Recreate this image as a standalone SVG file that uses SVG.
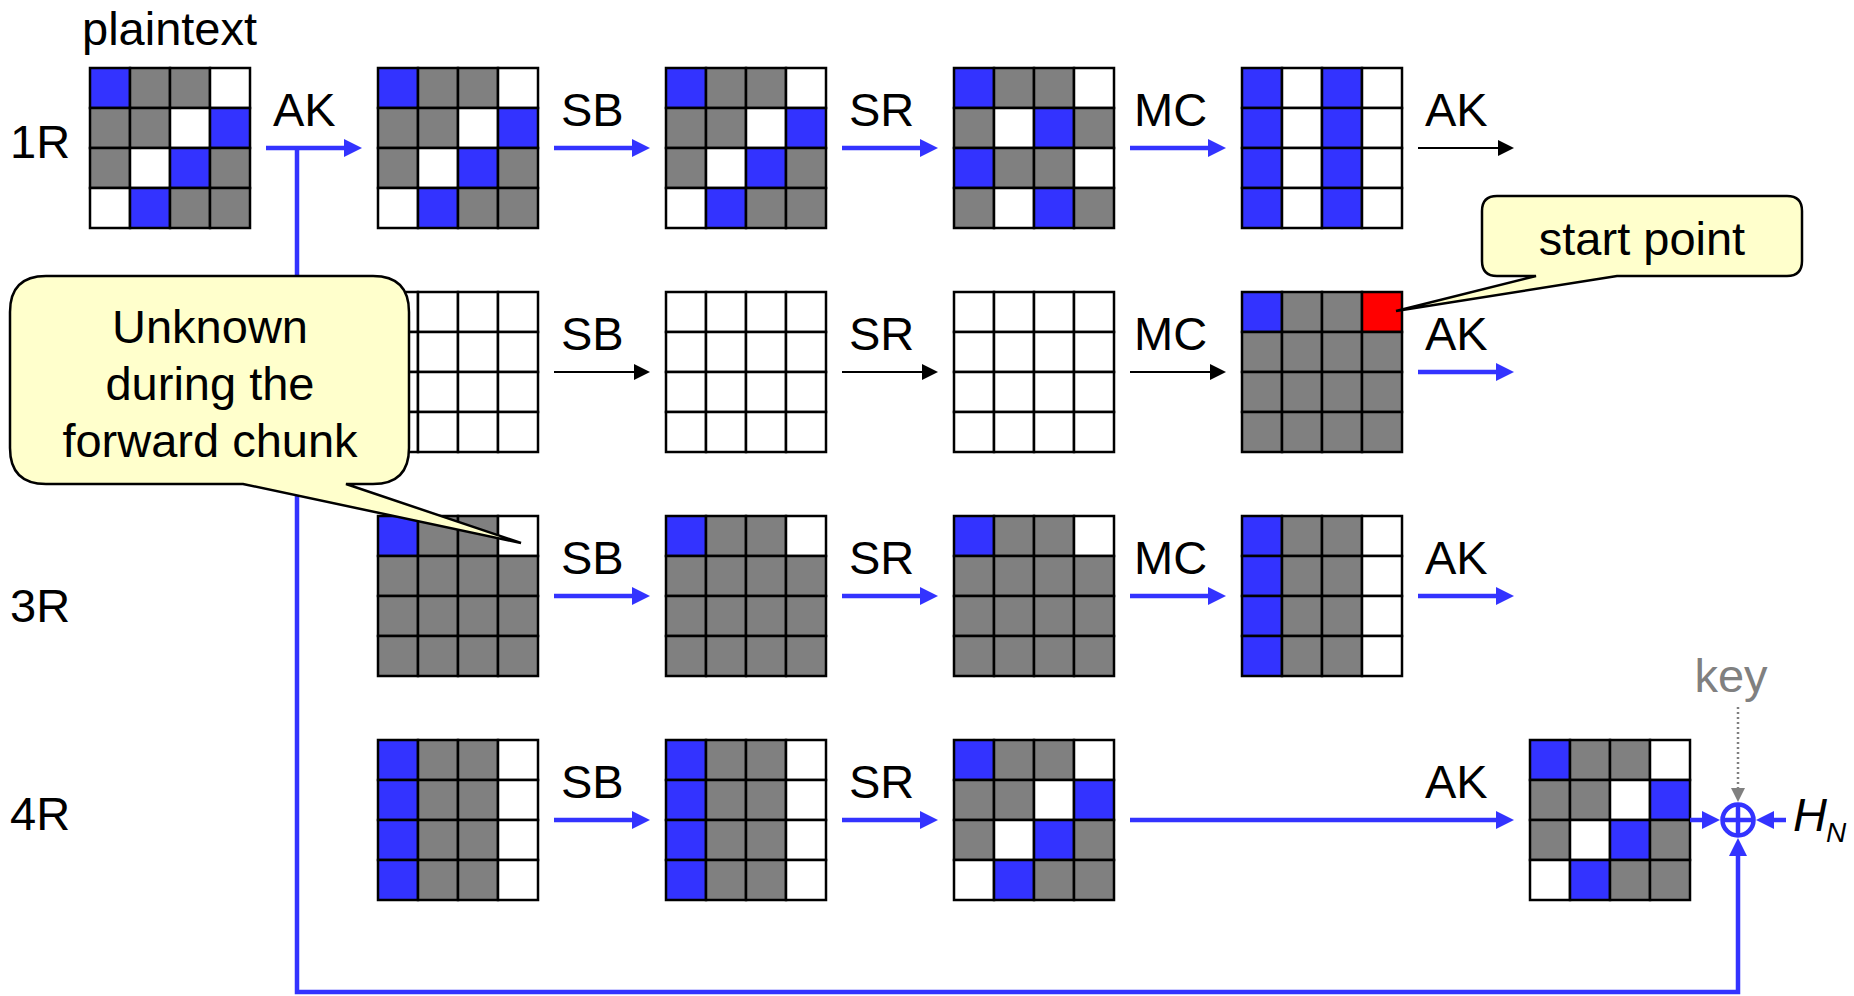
<svg xmlns="http://www.w3.org/2000/svg" width="1854" height="996" viewBox="0 0 1854 996">
<style>
text{font-family:"Liberation Sans",Arial,sans-serif;font-size:47px;fill:#000}
.m rect{stroke:#000;stroke-width:2.5}
.b{fill:#3333FF}.g{fill:#808080}.w{fill:#FFFFFF}.r{fill:#FF0000}
.cb{stroke:#3333FF;stroke-width:4.5;fill:none}
.ck{stroke:#000;stroke-width:2;fill:none}
.call{fill:#FFFFCC;stroke:#000;stroke-width:2.5}
</style>
<defs>
<marker id="ab" markerUnits="userSpaceOnUse" markerWidth="18" markerHeight="18" refX="2" refY="9" orient="auto"><path d="M0,0L18,9L0,18Z" fill="#3333FF"/></marker>
<marker id="ak" markerUnits="userSpaceOnUse" markerWidth="16" markerHeight="16" refX="2" refY="8" orient="auto"><path d="M0,0L16,8L0,16Z" fill="#000"/></marker>
<marker id="ag" markerUnits="userSpaceOnUse" markerWidth="14" markerHeight="14" refX="2" refY="7" orient="auto"><path d="M0,0L14,7L0,14Z" fill="#808080"/></marker>
</defs>

<g id="labels">
<text x="82" y="45">plaintext</text>
<text x="10" y="158">1R</text>
<text x="10" y="622">3R</text>
<text x="10" y="830">4R</text>
</g>

<!-- Row 1 -->
<g id="r1c0" class="m" transform="translate(90,68)">
<rect class="b" x="0" y="0" width="40" height="40"/><rect class="g" x="40" y="0" width="40" height="40"/><rect class="g" x="80" y="0" width="40" height="40"/><rect class="w" x="120" y="0" width="40" height="40"/>
<rect class="g" x="0" y="40" width="40" height="40"/><rect class="g" x="40" y="40" width="40" height="40"/><rect class="w" x="80" y="40" width="40" height="40"/><rect class="b" x="120" y="40" width="40" height="40"/>
<rect class="g" x="0" y="80" width="40" height="40"/><rect class="w" x="40" y="80" width="40" height="40"/><rect class="b" x="80" y="80" width="40" height="40"/><rect class="g" x="120" y="80" width="40" height="40"/>
<rect class="w" x="0" y="120" width="40" height="40"/><rect class="b" x="40" y="120" width="40" height="40"/><rect class="g" x="80" y="120" width="40" height="40"/><rect class="g" x="120" y="120" width="40" height="40"/>
</g>
<g id="r1c1" class="m" transform="translate(378,68)">
<rect class="b" x="0" y="0" width="40" height="40"/><rect class="g" x="40" y="0" width="40" height="40"/><rect class="g" x="80" y="0" width="40" height="40"/><rect class="w" x="120" y="0" width="40" height="40"/>
<rect class="g" x="0" y="40" width="40" height="40"/><rect class="g" x="40" y="40" width="40" height="40"/><rect class="w" x="80" y="40" width="40" height="40"/><rect class="b" x="120" y="40" width="40" height="40"/>
<rect class="g" x="0" y="80" width="40" height="40"/><rect class="w" x="40" y="80" width="40" height="40"/><rect class="b" x="80" y="80" width="40" height="40"/><rect class="g" x="120" y="80" width="40" height="40"/>
<rect class="w" x="0" y="120" width="40" height="40"/><rect class="b" x="40" y="120" width="40" height="40"/><rect class="g" x="80" y="120" width="40" height="40"/><rect class="g" x="120" y="120" width="40" height="40"/>
</g>
<g id="r1c2" class="m" transform="translate(666,68)">
<rect class="b" x="0" y="0" width="40" height="40"/><rect class="g" x="40" y="0" width="40" height="40"/><rect class="g" x="80" y="0" width="40" height="40"/><rect class="w" x="120" y="0" width="40" height="40"/>
<rect class="g" x="0" y="40" width="40" height="40"/><rect class="g" x="40" y="40" width="40" height="40"/><rect class="w" x="80" y="40" width="40" height="40"/><rect class="b" x="120" y="40" width="40" height="40"/>
<rect class="g" x="0" y="80" width="40" height="40"/><rect class="w" x="40" y="80" width="40" height="40"/><rect class="b" x="80" y="80" width="40" height="40"/><rect class="g" x="120" y="80" width="40" height="40"/>
<rect class="w" x="0" y="120" width="40" height="40"/><rect class="b" x="40" y="120" width="40" height="40"/><rect class="g" x="80" y="120" width="40" height="40"/><rect class="g" x="120" y="120" width="40" height="40"/>
</g>
<g id="r1c3" class="m" transform="translate(954,68)">
<rect class="b" x="0" y="0" width="40" height="40"/><rect class="g" x="40" y="0" width="40" height="40"/><rect class="g" x="80" y="0" width="40" height="40"/><rect class="w" x="120" y="0" width="40" height="40"/>
<rect class="g" x="0" y="40" width="40" height="40"/><rect class="w" x="40" y="40" width="40" height="40"/><rect class="b" x="80" y="40" width="40" height="40"/><rect class="g" x="120" y="40" width="40" height="40"/>
<rect class="b" x="0" y="80" width="40" height="40"/><rect class="g" x="40" y="80" width="40" height="40"/><rect class="g" x="80" y="80" width="40" height="40"/><rect class="w" x="120" y="80" width="40" height="40"/>
<rect class="g" x="0" y="120" width="40" height="40"/><rect class="w" x="40" y="120" width="40" height="40"/><rect class="b" x="80" y="120" width="40" height="40"/><rect class="g" x="120" y="120" width="40" height="40"/>
</g>
<g id="r1c4" class="m" transform="translate(1242,68)">
<rect class="b" x="0" y="0" width="40" height="40"/><rect class="w" x="40" y="0" width="40" height="40"/><rect class="b" x="80" y="0" width="40" height="40"/><rect class="w" x="120" y="0" width="40" height="40"/>
<rect class="b" x="0" y="40" width="40" height="40"/><rect class="w" x="40" y="40" width="40" height="40"/><rect class="b" x="80" y="40" width="40" height="40"/><rect class="w" x="120" y="40" width="40" height="40"/>
<rect class="b" x="0" y="80" width="40" height="40"/><rect class="w" x="40" y="80" width="40" height="40"/><rect class="b" x="80" y="80" width="40" height="40"/><rect class="w" x="120" y="80" width="40" height="40"/>
<rect class="b" x="0" y="120" width="40" height="40"/><rect class="w" x="40" y="120" width="40" height="40"/><rect class="b" x="80" y="120" width="40" height="40"/><rect class="w" x="120" y="120" width="40" height="40"/>
</g>

<!-- Row 2 -->
<g id="r2c1" class="m" transform="translate(378,292)">
<rect class="w" x="0" y="0" width="40" height="40"/><rect class="w" x="40" y="0" width="40" height="40"/><rect class="w" x="80" y="0" width="40" height="40"/><rect class="w" x="120" y="0" width="40" height="40"/>
<rect class="w" x="0" y="40" width="40" height="40"/><rect class="w" x="40" y="40" width="40" height="40"/><rect class="w" x="80" y="40" width="40" height="40"/><rect class="w" x="120" y="40" width="40" height="40"/>
<rect class="w" x="0" y="80" width="40" height="40"/><rect class="w" x="40" y="80" width="40" height="40"/><rect class="w" x="80" y="80" width="40" height="40"/><rect class="w" x="120" y="80" width="40" height="40"/>
<rect class="w" x="0" y="120" width="40" height="40"/><rect class="w" x="40" y="120" width="40" height="40"/><rect class="w" x="80" y="120" width="40" height="40"/><rect class="w" x="120" y="120" width="40" height="40"/>
</g>
<g id="r2c2" class="m" transform="translate(666,292)">
<rect class="w" x="0" y="0" width="40" height="40"/><rect class="w" x="40" y="0" width="40" height="40"/><rect class="w" x="80" y="0" width="40" height="40"/><rect class="w" x="120" y="0" width="40" height="40"/>
<rect class="w" x="0" y="40" width="40" height="40"/><rect class="w" x="40" y="40" width="40" height="40"/><rect class="w" x="80" y="40" width="40" height="40"/><rect class="w" x="120" y="40" width="40" height="40"/>
<rect class="w" x="0" y="80" width="40" height="40"/><rect class="w" x="40" y="80" width="40" height="40"/><rect class="w" x="80" y="80" width="40" height="40"/><rect class="w" x="120" y="80" width="40" height="40"/>
<rect class="w" x="0" y="120" width="40" height="40"/><rect class="w" x="40" y="120" width="40" height="40"/><rect class="w" x="80" y="120" width="40" height="40"/><rect class="w" x="120" y="120" width="40" height="40"/>
</g>
<g id="r2c3" class="m" transform="translate(954,292)">
<rect class="w" x="0" y="0" width="40" height="40"/><rect class="w" x="40" y="0" width="40" height="40"/><rect class="w" x="80" y="0" width="40" height="40"/><rect class="w" x="120" y="0" width="40" height="40"/>
<rect class="w" x="0" y="40" width="40" height="40"/><rect class="w" x="40" y="40" width="40" height="40"/><rect class="w" x="80" y="40" width="40" height="40"/><rect class="w" x="120" y="40" width="40" height="40"/>
<rect class="w" x="0" y="80" width="40" height="40"/><rect class="w" x="40" y="80" width="40" height="40"/><rect class="w" x="80" y="80" width="40" height="40"/><rect class="w" x="120" y="80" width="40" height="40"/>
<rect class="w" x="0" y="120" width="40" height="40"/><rect class="w" x="40" y="120" width="40" height="40"/><rect class="w" x="80" y="120" width="40" height="40"/><rect class="w" x="120" y="120" width="40" height="40"/>
</g>
<g id="r2c4" class="m" transform="translate(1242,292)">
<rect class="b" x="0" y="0" width="40" height="40"/><rect class="g" x="40" y="0" width="40" height="40"/><rect class="g" x="80" y="0" width="40" height="40"/><rect class="r" x="120" y="0" width="40" height="40"/>
<rect class="g" x="0" y="40" width="40" height="40"/><rect class="g" x="40" y="40" width="40" height="40"/><rect class="g" x="80" y="40" width="40" height="40"/><rect class="g" x="120" y="40" width="40" height="40"/>
<rect class="g" x="0" y="80" width="40" height="40"/><rect class="g" x="40" y="80" width="40" height="40"/><rect class="g" x="80" y="80" width="40" height="40"/><rect class="g" x="120" y="80" width="40" height="40"/>
<rect class="g" x="0" y="120" width="40" height="40"/><rect class="g" x="40" y="120" width="40" height="40"/><rect class="g" x="80" y="120" width="40" height="40"/><rect class="g" x="120" y="120" width="40" height="40"/>
</g>

<!-- Row 3 -->
<g id="r3c1" class="m" transform="translate(378,516)">
<rect class="b" x="0" y="0" width="40" height="40"/><rect class="g" x="40" y="0" width="40" height="40"/><rect class="g" x="80" y="0" width="40" height="40"/><rect class="w" x="120" y="0" width="40" height="40"/>
<rect class="g" x="0" y="40" width="40" height="40"/><rect class="g" x="40" y="40" width="40" height="40"/><rect class="g" x="80" y="40" width="40" height="40"/><rect class="g" x="120" y="40" width="40" height="40"/>
<rect class="g" x="0" y="80" width="40" height="40"/><rect class="g" x="40" y="80" width="40" height="40"/><rect class="g" x="80" y="80" width="40" height="40"/><rect class="g" x="120" y="80" width="40" height="40"/>
<rect class="g" x="0" y="120" width="40" height="40"/><rect class="g" x="40" y="120" width="40" height="40"/><rect class="g" x="80" y="120" width="40" height="40"/><rect class="g" x="120" y="120" width="40" height="40"/>
</g>
<g id="r3c2" class="m" transform="translate(666,516)">
<rect class="b" x="0" y="0" width="40" height="40"/><rect class="g" x="40" y="0" width="40" height="40"/><rect class="g" x="80" y="0" width="40" height="40"/><rect class="w" x="120" y="0" width="40" height="40"/>
<rect class="g" x="0" y="40" width="40" height="40"/><rect class="g" x="40" y="40" width="40" height="40"/><rect class="g" x="80" y="40" width="40" height="40"/><rect class="g" x="120" y="40" width="40" height="40"/>
<rect class="g" x="0" y="80" width="40" height="40"/><rect class="g" x="40" y="80" width="40" height="40"/><rect class="g" x="80" y="80" width="40" height="40"/><rect class="g" x="120" y="80" width="40" height="40"/>
<rect class="g" x="0" y="120" width="40" height="40"/><rect class="g" x="40" y="120" width="40" height="40"/><rect class="g" x="80" y="120" width="40" height="40"/><rect class="g" x="120" y="120" width="40" height="40"/>
</g>
<g id="r3c3" class="m" transform="translate(954,516)">
<rect class="b" x="0" y="0" width="40" height="40"/><rect class="g" x="40" y="0" width="40" height="40"/><rect class="g" x="80" y="0" width="40" height="40"/><rect class="w" x="120" y="0" width="40" height="40"/>
<rect class="g" x="0" y="40" width="40" height="40"/><rect class="g" x="40" y="40" width="40" height="40"/><rect class="g" x="80" y="40" width="40" height="40"/><rect class="g" x="120" y="40" width="40" height="40"/>
<rect class="g" x="0" y="80" width="40" height="40"/><rect class="g" x="40" y="80" width="40" height="40"/><rect class="g" x="80" y="80" width="40" height="40"/><rect class="g" x="120" y="80" width="40" height="40"/>
<rect class="g" x="0" y="120" width="40" height="40"/><rect class="g" x="40" y="120" width="40" height="40"/><rect class="g" x="80" y="120" width="40" height="40"/><rect class="g" x="120" y="120" width="40" height="40"/>
</g>
<g id="r3c4" class="m" transform="translate(1242,516)">
<rect class="b" x="0" y="0" width="40" height="40"/><rect class="g" x="40" y="0" width="40" height="40"/><rect class="g" x="80" y="0" width="40" height="40"/><rect class="w" x="120" y="0" width="40" height="40"/>
<rect class="b" x="0" y="40" width="40" height="40"/><rect class="g" x="40" y="40" width="40" height="40"/><rect class="g" x="80" y="40" width="40" height="40"/><rect class="w" x="120" y="40" width="40" height="40"/>
<rect class="b" x="0" y="80" width="40" height="40"/><rect class="g" x="40" y="80" width="40" height="40"/><rect class="g" x="80" y="80" width="40" height="40"/><rect class="w" x="120" y="80" width="40" height="40"/>
<rect class="b" x="0" y="120" width="40" height="40"/><rect class="g" x="40" y="120" width="40" height="40"/><rect class="g" x="80" y="120" width="40" height="40"/><rect class="w" x="120" y="120" width="40" height="40"/>
</g>

<!-- Row 4 -->
<g id="r4c1" class="m" transform="translate(378,740)">
<rect class="b" x="0" y="0" width="40" height="40"/><rect class="g" x="40" y="0" width="40" height="40"/><rect class="g" x="80" y="0" width="40" height="40"/><rect class="w" x="120" y="0" width="40" height="40"/>
<rect class="b" x="0" y="40" width="40" height="40"/><rect class="g" x="40" y="40" width="40" height="40"/><rect class="g" x="80" y="40" width="40" height="40"/><rect class="w" x="120" y="40" width="40" height="40"/>
<rect class="b" x="0" y="80" width="40" height="40"/><rect class="g" x="40" y="80" width="40" height="40"/><rect class="g" x="80" y="80" width="40" height="40"/><rect class="w" x="120" y="80" width="40" height="40"/>
<rect class="b" x="0" y="120" width="40" height="40"/><rect class="g" x="40" y="120" width="40" height="40"/><rect class="g" x="80" y="120" width="40" height="40"/><rect class="w" x="120" y="120" width="40" height="40"/>
</g>
<g id="r4c2" class="m" transform="translate(666,740)">
<rect class="b" x="0" y="0" width="40" height="40"/><rect class="g" x="40" y="0" width="40" height="40"/><rect class="g" x="80" y="0" width="40" height="40"/><rect class="w" x="120" y="0" width="40" height="40"/>
<rect class="b" x="0" y="40" width="40" height="40"/><rect class="g" x="40" y="40" width="40" height="40"/><rect class="g" x="80" y="40" width="40" height="40"/><rect class="w" x="120" y="40" width="40" height="40"/>
<rect class="b" x="0" y="80" width="40" height="40"/><rect class="g" x="40" y="80" width="40" height="40"/><rect class="g" x="80" y="80" width="40" height="40"/><rect class="w" x="120" y="80" width="40" height="40"/>
<rect class="b" x="0" y="120" width="40" height="40"/><rect class="g" x="40" y="120" width="40" height="40"/><rect class="g" x="80" y="120" width="40" height="40"/><rect class="w" x="120" y="120" width="40" height="40"/>
</g>
<g id="r4c3" class="m" transform="translate(954,740)">
<rect class="b" x="0" y="0" width="40" height="40"/><rect class="g" x="40" y="0" width="40" height="40"/><rect class="g" x="80" y="0" width="40" height="40"/><rect class="w" x="120" y="0" width="40" height="40"/>
<rect class="g" x="0" y="40" width="40" height="40"/><rect class="g" x="40" y="40" width="40" height="40"/><rect class="w" x="80" y="40" width="40" height="40"/><rect class="b" x="120" y="40" width="40" height="40"/>
<rect class="g" x="0" y="80" width="40" height="40"/><rect class="w" x="40" y="80" width="40" height="40"/><rect class="b" x="80" y="80" width="40" height="40"/><rect class="g" x="120" y="80" width="40" height="40"/>
<rect class="w" x="0" y="120" width="40" height="40"/><rect class="b" x="40" y="120" width="40" height="40"/><rect class="g" x="80" y="120" width="40" height="40"/><rect class="g" x="120" y="120" width="40" height="40"/>
</g>
<g id="r4c5" class="m" transform="translate(1530,740)">
<rect class="b" x="0" y="0" width="40" height="40"/><rect class="g" x="40" y="0" width="40" height="40"/><rect class="g" x="80" y="0" width="40" height="40"/><rect class="w" x="120" y="0" width="40" height="40"/>
<rect class="g" x="0" y="40" width="40" height="40"/><rect class="g" x="40" y="40" width="40" height="40"/><rect class="w" x="80" y="40" width="40" height="40"/><rect class="b" x="120" y="40" width="40" height="40"/>
<rect class="g" x="0" y="80" width="40" height="40"/><rect class="w" x="40" y="80" width="40" height="40"/><rect class="b" x="80" y="80" width="40" height="40"/><rect class="g" x="120" y="80" width="40" height="40"/>
<rect class="w" x="0" y="120" width="40" height="40"/><rect class="b" x="40" y="120" width="40" height="40"/><rect class="g" x="80" y="120" width="40" height="40"/><rect class="g" x="120" y="120" width="40" height="40"/>
</g>

<g id="connectors">
<!-- row 1 -->
<line class="cb" x1="266" y1="148" x2="346" y2="148" marker-end="url(#ab)"/>
<line class="cb" x1="554" y1="148" x2="634" y2="148" marker-end="url(#ab)"/>
<line class="cb" x1="842" y1="148" x2="922" y2="148" marker-end="url(#ab)"/>
<line class="cb" x1="1130" y1="148" x2="1210" y2="148" marker-end="url(#ab)"/>
<line class="ck" x1="1418" y1="148" x2="1500" y2="148" marker-end="url(#ak)"/>
<!-- row 2 -->
<line class="ck" x1="554" y1="372" x2="636" y2="372" marker-end="url(#ak)"/>
<line class="ck" x1="842" y1="372" x2="924" y2="372" marker-end="url(#ak)"/>
<line class="ck" x1="1130" y1="372" x2="1212" y2="372" marker-end="url(#ak)"/>
<line class="cb" x1="1418" y1="372" x2="1498" y2="372" marker-end="url(#ab)"/>
<!-- row 3 -->
<line class="cb" x1="554" y1="596" x2="634" y2="596" marker-end="url(#ab)"/>
<line class="cb" x1="842" y1="596" x2="922" y2="596" marker-end="url(#ab)"/>
<line class="cb" x1="1130" y1="596" x2="1210" y2="596" marker-end="url(#ab)"/>
<line class="cb" x1="1418" y1="596" x2="1498" y2="596" marker-end="url(#ab)"/>
<!-- row 4 -->
<line class="cb" x1="554" y1="820" x2="634" y2="820" marker-end="url(#ab)"/>
<line class="cb" x1="842" y1="820" x2="922" y2="820" marker-end="url(#ab)"/>
<line class="cb" x1="1130" y1="820" x2="1498" y2="820" marker-end="url(#ab)"/>
<!-- feed-forward -->
<path class="cb" d="M297,148V992H1738V854" marker-end="url(#ab)"/>
<line class="cb" x1="1690" y1="820" x2="1704" y2="820" marker-end="url(#ab)"/>
<line class="cb" x1="1786" y1="820" x2="1772" y2="820" marker-end="url(#ab)"/>
<line x1="1738" y1="707" x2="1738" y2="790" stroke="#808080" stroke-width="2.5" stroke-dasharray="2,3" marker-end="url(#ag)"/>
</g>

<g id="xor">
<circle class="cb" cx="1738" cy="820" r="15.5"/>
<path class="cb" d="M1738,804.5V835.5M1722.5,820H1753.5"/>
</g>

<g id="oplabels">
<text x="273" y="126">AK</text>
<text x="561" y="126">SB</text>
<text x="849" y="126">SR</text>
<text x="1134" y="126">MC</text>
<text x="1425" y="126">AK</text>
<text x="561" y="350">SB</text>
<text x="849" y="350">SR</text>
<text x="1134" y="350">MC</text>
<text x="1425" y="350">AK</text>
<text x="561" y="574">SB</text>
<text x="849" y="574">SR</text>
<text x="1134" y="574">MC</text>
<text x="1425" y="574">AK</text>
<text x="561" y="798">SB</text>
<text x="849" y="798">SR</text>
<text x="1425" y="798">AK</text>
<text x="1731" y="692" text-anchor="middle" style="fill:#808080">key</text>
<text x="1793" y="831" font-style="italic">H</text>
<text x="1826" y="842" font-style="italic" style="font-size:28px">N</text>
</g>

<g id="callout-unknown">
<path class="call" d="M46,276H373Q409,276 409,312V448Q409,484 373,484H346L521,543L243,484H46Q10,484 10,448V312Q10,276 46,276Z"/>
<text x="210" y="343" text-anchor="middle">Unknown</text>
<text x="210" y="400" text-anchor="middle">during the</text>
<text x="210" y="457" text-anchor="middle">forward chunk</text>
</g>

<g id="callout-start">
<path class="call" d="M1497,196H1787Q1802,196 1802,211V261Q1802,276 1787,276H1617L1396,311L1536,276H1497Q1482,276 1482,261V211Q1482,196 1497,196Z"/>
<text x="1642" y="255" text-anchor="middle">start point</text>
</g>
</svg>
